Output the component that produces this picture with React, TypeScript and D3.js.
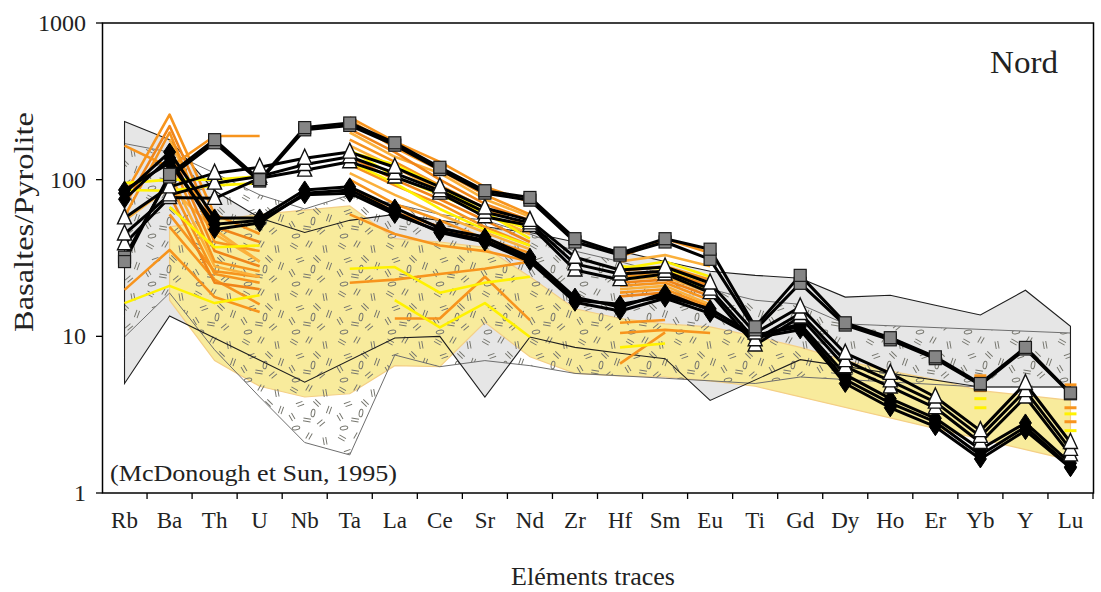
import React from "react";
import * as d3 from "d3";

type V = number | null;
const N = null;

const elements = ["Rb","Ba","Th","U","Nb","Ta","La","Ce","Sr","Nd","Zr","Hf","Sm","Eu","Ti","Gd","Dy","Ho","Er","Yb","Y","Lu"];
const yTickValues = [1, 10, 100, 1000];

// Reference fields (upper / lower envelopes, null = no vertex)
const grayFieldUpper: V[] = [235, 180, 85, 57, 46, 55, 60, 55, 50, 46, 40, 35, 30, 26, 24.5, 23.5, 17.8, 18.3, 15.8, 13.7, 19.7, 11.6];
const grayFieldLower: V[] = [5, 13.5, N, N, 5.1, N, 9.75, 10, 4.1, 9.9, 8.5, 7.8, 7.2, 3.9, N, 7.1, N, N, N, 4.75, N, 4.75];
const hatchFieldUpper: V[] = [170, 150, 110, 80, 65, 80, 70, 60, 55, 45, 35, 30, 25, 20, 17, 16, 12, N, N, N, N, 10.5];
const hatchFieldLower: V[] = [9.9, 18.9, 8.2, 4.1, 2.1, 1.75, 7.6, 6.4, 7, 6.5, 5.8, 5.6, 5.4, 5.2, 5, 5.5, N, N, N, 4.75, N, 4.75];
const yellowFieldUpper: V[] = [N, 50, 55, 60, 64, 68, 42, 40, 37, 24, 15, 13, 12, 11.5, 10, 8.5, 7, 6, 5.3, 4.5, 4.2, 3.9];
const yellowFieldLower: V[] = [N, 17, 7, 4.8, 4.1, 4.3, 6.5, 6.4, 12.3, 7.4, 5.8, 5.6, 5.5, 5.2, 4.8, N, N, N, N, N, N, 1.62];

// Orange / yellow sample lines (incomplete analyses)
const orange1: V[] = [165, 120, 190, 190, N, 250, 175, 130, 90, 72, N, 32, 42, 34, N, N, N, N, N, 5.6, N, 4.9];
const yellow1: V[] = [95, 100, 100, 105, N, 155, 105, 80, 60, 48, N, 27, 30, 24, N, N, N, N, N, 4.0, N, 3.2];
const yellow2: V[] = [86, 85, 92, 95, N, 150, 125, 90, 62, 42, N, 28, 27, 22, N, N, N, N, N, N, N, 2.5];
const orange2: V[] = [80, 260, 60, 45, N, 240, 160, 115, 80, 60, N, 26, 28, 23, N, N, N, N, N, 4.5, N, 3.5];
const orange3: V[] = [68, 220, 50, 40, N, 210, 150, 100, 70, 55, N, 25, 26, 21, N, N, N, N, N, N, N, 4.4];
const orange4: V[] = [58, 200, 40, 35, N, 180, 130, 92, 66, 50, N, 24, 25, 20, N, N, N, N, N, N, N, 2.85];
const orange5: V[] = [N, 180, 45, 30, N, 165, 120, 85, 60, 45, N, 23, 24, 19, N, N, N, N, N, N, N, N];
const orange6: V[] = [N, 160, 35, 28, N, 140, 100, 75, 55, 40, N, 22, 23, 18, N, N, N, N, N, N, N, N];
const orange7: V[] = [N, 140, 30, 26, N, 125, 92, 70, 50, 38, N, 21, 22, 17, N, N, N, N, N, N, N, N];
const orange8: V[] = [N, 110, 28, 24, N, 110, 80, 60, 46, 36, N, 20, 21, 16, N, N, N, N, N, N, N, N];
const orange9: V[] = [N, 95, 25, 22, N, 100, 70, 55, 42, 34, N, 19, 20, 15.5, N, N, N, N, N, N, N, N];
const orange10: V[] = [N, 80, 22, 20, N, 90, 62, 50, 40, 32, N, 18, 19, 15, N, N, N, N, N, N, N, N];
const yellow3: V[] = [N, 67, 37, 38, N, 130, 95, 65, 48, 38, N, 23, 25, 20, N, N, N, N, N, 3.5, N, N];
const orange11: V[] = [19.8, 35.6, 17.8, 14.3, N, 22, 23, 25, 27, 30, N, 12.2, 12.7, N, N, N, N, N, N, N, N, N];
const yellow4: V[] = [16.3, 21, 16.3, 18.3, N, 27, 27.7, 19, 22, 24, N, 8.5, 9, N, N, N, N, N, N, N, N, N];
const orange12: V[] = [N, 60, 26, 24, N, N, 13, 13, 24, 12.7, N, 10.5, 11, 10.5, N, N, N, N, N, N, N, N];
const yellow5: V[] = [N, N, N, N, N, N, 17, 11.4, 16.3, 9.9, N, N, N, N, N, N, N, N, N, N, N, N];
const orange13: V[] = [N, 50, 23, 16, N, 60, 45, 38, 35, 30, N, 6.7, 10.6, N, N, N, N, N, N, N, N, N];
const orange14: V[] = [55, 90, 48, 30, N, 200, 140, 110, 75, 58, N, 30, 33, 28, N, N, N, N, N, N, N, N];

// Black series with symbols
const square1: V[] = [30, 108, 180, 100, 215, 230, 172, 120, 85, 77, 42, 34, 42, 36, 11.5, 24.5, 12.2, 9.8, 7.4, 5.0, 8.5, 4.35];
const square2: V[] = [32, 104, 172, 98, 208, 222, 166, 116, 82, 74, 40, 33, 40, 31, 11, 21.8, 11.8, 9.5, 7.2, 4.9, 8.3, 4.3];
const triangle1: V[] = [57, 90, 110, 120, 137, 150, 120, 90, 66, 55, 32, 26.5, 27.7, 21.9, 10.5, 15.4, 7.8, 5.8, 4.1, 2.5, 5.0, 2.1];
const triangle2: V[] = [45, 80, 95, 105, 125, 140, 110, 85, 62, 53, 29, 25, 26, 20, 9.5, 14, 7, 5.2, 3.8, 2.3, 4.5, 1.9];
const triangle3: V[] = [39, 77, 76, 102, 115, 130, 104, 82, 58, 51, 26.5, 23, 25, 19, 8.8, 13.3, 6.4, 4.75, 3.5, 2.1, 4.1, 1.75];
const diamond1: V[] = [82, 150, 57, 57, 86, 90, 66, 49, 43, 32, 17.8, 15.4, 18.9, 14.7, 10.2, 11.5, 5.3, 3.75, 2.84, 1.75, 2.64, 1.47];
const diamond2: V[] = [75, 138, 48, 53, 82, 86, 62, 46, 40, 30, 16.5, 14.5, 17.5, 14, 9.8, 11, 5.0, 3.5, 2.65, 1.65, 2.5, 1.45];
const diamond3: V[] = [86, 128, 52, 55, 80, 82, 60, 47, 41, 31, 17, 16, 18, 15, 10, 12, 5.7, 4.0, 3.0, 1.9, 2.8, 1.55];

const ORANGE = "#f7941d";
const DORANGE = "#f08519";
const LORANGE = "#fbb03b";
const YELLOW = "#fff200";

const sampleLines: { v: V[]; c: string }[] = [
  { v: orange14, c: LORANGE },
  { v: orange13, c: ORANGE },
  { v: orange12, c: ORANGE },
  { v: yellow5, c: YELLOW },
  { v: orange11, c: ORANGE },
  { v: yellow4, c: YELLOW },
  { v: orange10, c: DORANGE },
  { v: orange9, c: ORANGE },
  { v: orange8, c: LORANGE },
  { v: orange7, c: ORANGE },
  { v: orange6, c: DORANGE },
  { v: orange5, c: LORANGE },
  { v: orange4, c: ORANGE },
  { v: orange3, c: DORANGE },
  { v: orange2, c: ORANGE },
  { v: yellow3, c: YELLOW },
  { v: yellow2, c: YELLOW },
  { v: yellow1, c: YELLOW },
  { v: orange1, c: ORANGE },
];

const symbolSeries: { v: V[]; kind: "square" | "triangle" | "diamond" }[] = [
  { v: diamond2, kind: "diamond" },
  { v: diamond3, kind: "diamond" },
  { v: diamond1, kind: "diamond" },
  { v: triangle3, kind: "triangle" },
  { v: triangle2, kind: "triangle" },
  { v: triangle1, kind: "triangle" },
  { v: square2, kind: "square" },
  { v: square1, kind: "square" },
];

const W = 1101;
const H = 592;
const FONT = "'Liberation Serif', 'Times New Roman', serif";

const x = d3.scaleBand<string>().domain(elements).range([102, 1093]).padding(0);
const y = d3.scaleLog().domain([1, 1000]).range([493, 23]);
const cx = (i: number) => (x(elements[i]) as number) + x.bandwidth() / 2;

function fieldPath(upper: V[], lower: V[]): string {
  const pts: [number, number][] = [];
  upper.forEach((v, i) => { if (v != null) pts.push([cx(i), y(v)]); });
  for (let i = lower.length - 1; i >= 0; i--) {
    const v = lower[i];
    if (v != null) pts.push([cx(i), y(v)]);
  }
  return (d3.line()(pts) || "") + "Z";
}

const gapLine = d3
  .line<V>()
  .defined((d) => d != null)
  .x((_, i) => cx(i))
  .y((d) => y(d as number));

function isolated(v: V[]): number[] {
  const out: number[] = [];
  v.forEach((d, i) => {
    if (d == null) return;
    const l = i > 0 ? v[i - 1] : null;
    const r = i < v.length - 1 ? v[i + 1] : null;
    if (l == null && r == null) out.push(i);
  });
  return out;
}

const glyphs: [number, number, number, number][] = [
  [6, 6, 30, 0], [21, 4, -60, 1], [37, 9, 80, 0], [12, 20, -20, 1], [29, 19, 45, 0],
  [41, 26, -70, 0], [4, 33, 60, 1], [19, 36, 10, 0], [33, 39, -40, 1], [25, 29, 100, 2], [8, 44, -10, 2],
];

function Marker({ kind, px, py }: { kind: string; px: number; py: number }) {
  if (kind === "square") {
    return <rect x={px - 6} y={py - 6} width={12} height={12} fill="#858585" stroke="#1a1a1a" strokeWidth={1.2} />;
  }
  if (kind === "triangle") {
    return (
      <path d={`M${px},${py - 9} L${px + 7},${py + 6} L${px - 7},${py + 6} Z`} fill="#ffffff" stroke="#111" strokeWidth={1.4} />
    );
  }
  return <path d={`M${px},${py - 9} L${px + 6},${py} L${px},${py + 9} L${px - 6},${py} Z`} fill="#000" stroke="#000" strokeWidth={1} />;
}

export default function App() {
  const bw = x.bandwidth();
  return (
    <svg width={W} height={H} style={{ position: "absolute", left: 0, top: 0, background: "#fff" }} fontFamily={FONT}>
      <defs>
        <pattern id="hatch" width={48} height={48} patternUnits="userSpaceOnUse">
          {glyphs.map(([gx, gy, a, t], k) => (
            <g key={k} transform={`translate(${gx},${gy}) rotate(${a})`} stroke="#76766e" strokeWidth={1} fill="none">
              {t === 2 ? (
                <ellipse cx={0} cy={0} rx={3.8} ry={1.8} />
              ) : (
                <path d={t === 0 ? "M-3.8,-1.4 L3.8,-1.4 M-3.8,1.4 L3.8,1.4" : "M-3.8,-1.6 L3.2,-1.6 M-3.2,1.6 L3.8,1.6"} />
              )}
            </g>
          ))}
        </pattern>
        <clipPath id="plot">
          <rect x={102} y={23} width={991} height={470} />
        </clipPath>
      </defs>

      <g clipPath="url(#plot)">
        <path d={fieldPath(grayFieldUpper, grayFieldLower)} fill="#e6e6e6" stroke="none" />
        <path d={fieldPath(yellowFieldUpper, yellowFieldLower)} fill="#f8eb9c" stroke="#f4cf86" strokeWidth={1.2} />
        <path d={fieldPath(hatchFieldUpper, hatchFieldLower)} fill="url(#hatch)" stroke="#6e6e6e" strokeWidth={1} />
        <path d={fieldPath(grayFieldUpper, grayFieldLower)} fill="none" stroke="#1e1e1e" strokeWidth={1.1} />

        {sampleLines.map((s, k) => (
          <g key={k}>
            <path d={gapLine(s.v) || ""} fill="none" stroke={s.c} strokeWidth={2.6} strokeLinejoin="round" />
            {isolated(s.v).map((i) => (
              <line key={i} x1={cx(i) - 6} x2={cx(i) + 6} y1={y(s.v[i] as number)} y2={y(s.v[i] as number)} stroke={s.c} strokeWidth={3} />
            ))}
          </g>
        ))}

        {symbolSeries.map((s, k) => (
          <path key={k} d={gapLine(s.v) || ""} fill="none" stroke="#000" strokeWidth={3} strokeLinejoin="round" />
        ))}
        {symbolSeries.map((s, k) => (
          <g key={k}>
            {s.v.map((d, i) => (d == null ? null : <Marker key={i} kind={s.kind} px={cx(i)} py={y(d)} />))}
          </g>
        ))}
      </g>

      <rect x={102.5} y={23} width={991} height={470} fill="none" stroke="#000" strokeWidth={1.5} />

      {yTickValues.map((t) => (
        <g key={t}>
          <line x1={96} x2={102.5} y1={y(t)} y2={y(t)} stroke="#000" strokeWidth={1.3} />
          <text x={86} y={y(t) + 8} textAnchor="end" fontSize={24} fill="#222">{t}</text>
        </g>
      ))}

      {elements.map((e) => (
        <line key={"t" + e} x1={(x(e) as number) + bw} x2={(x(e) as number) + bw} y1={493} y2={499} stroke="#000" strokeWidth={1.3} />
      ))}
      {elements.map((e, i) => (
        <text key={e} x={cx(i)} y={528} textAnchor="middle" fontSize={23} fill="#222">{e}</text>
      ))}

      <text x={593} y={585} textAnchor="middle" fontSize={26} fill="#222">Eléments traces</text>
      <text transform="translate(33,222) rotate(-90)" textAnchor="middle" fontSize={27} fill="#222" textLength={220} lengthAdjust="spacingAndGlyphs">Basaltes/Pyrolite</text>
      <text x={990} y={73} fontSize={31} fill="#222" textLength={68} lengthAdjust="spacingAndGlyphs">Nord</text>
      <text x={110} y={481} fontSize={24} fill="#222" textLength={287} lengthAdjust="spacingAndGlyphs">(McDonough et Sun, 1995)</text>
    </svg>
  );
}
